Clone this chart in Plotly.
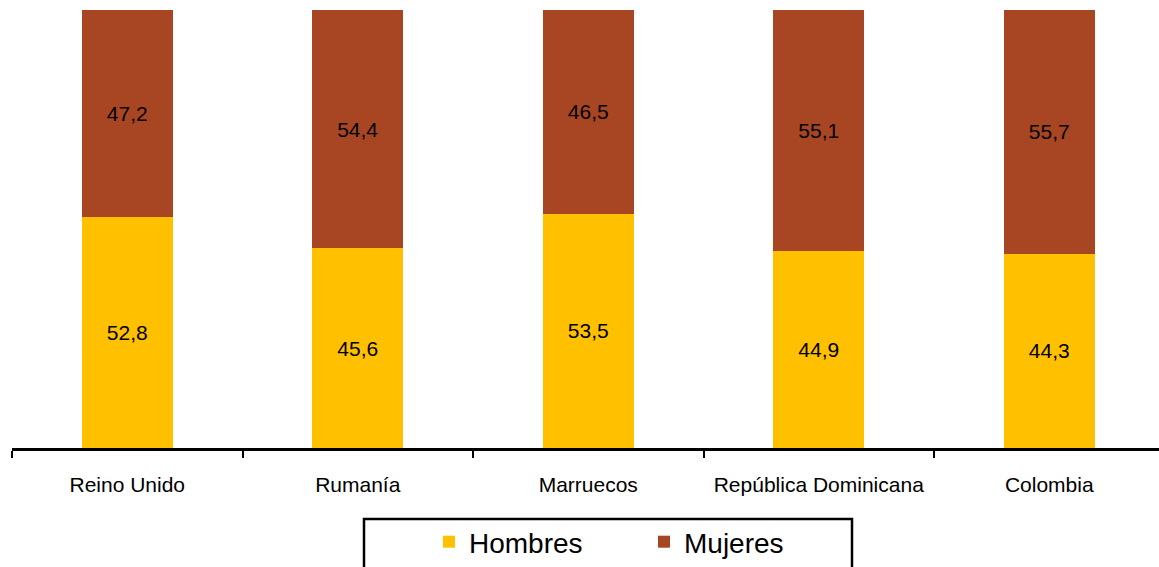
import plotly.graph_objects as go

categorias = ["Reino Unido", "Rumanía", "Marruecos", "República Dominicana", "Colombia"]
hombres = [52.8, 45.6, 53.5, 44.9, 44.3]
mujeres = [47.2, 54.4, 46.5, 55.1, 55.7]

W, H = 1159, 567
L, R, T, B = 12, 0, 10, 119
pw = W - L - R
ph = H - T - B

def px_x(x):
    return (x - L) / pw

def px_y(y):
    return (H - B - y) / ph

font = "Liberation Sans, Arial, sans-serif"

fig = go.Figure()
fig.add_trace(go.Bar(
    x=categorias, y=hombres, name="Hombres",
    marker=dict(color="#FFC000", line=dict(width=0)),
    width=0.395,
    texttemplate="%{y:.1f}", textposition="inside", insidetextanchor="middle",
    textangle=0, textfont=dict(color="black", size=21, family=font),
))
fig.add_trace(go.Bar(
    x=categorias, y=mujeres, name="Mujeres",
    marker=dict(color="#A84623", line=dict(width=0)),
    width=0.395,
    texttemplate="%{y:.1f}", textposition="inside", insidetextanchor="middle",
    textangle=0, textfont=dict(color="black", size=21, family=font),
))

fig.add_shape(type="rect", xref="paper", yref="paper",
              x0=px_x(364), x1=px_x(852), y0=px_y(519), y1=px_y(620),
              line=dict(color="black", width=2.5), fillcolor="rgba(0,0,0,0)")

fig.update_layout(
    width=W, height=H,
    barmode="stack",
    separators=", ",
    plot_bgcolor="white", paper_bgcolor="white",
    margin=dict(l=L, r=R, t=T, b=B, pad=0),
    font=dict(family=font, color="black"),
    showlegend=True,
    legend=dict(
        orientation="h", x=px_x(429), y=px_y(542), xanchor="left", yanchor="middle",
        font=dict(size=28, family=font, color="black"),
        bgcolor="rgba(0,0,0,0)", borderwidth=0,
        entrywidth=170, entrywidthmode="pixels",
        traceorder="normal", itemwidth=30,
    ),
    xaxis=dict(
        type="category", range=[-0.5, 4.476],
        showline=True, linecolor="black", linewidth=2.5,
        ticks="outside", tickson="boundaries", ticklen=7, tickwidth=2, tickcolor="black",
        tickfont=dict(size=21, family=font, color="black"),
        ticklabelstandoff=16,
        showgrid=False, zeroline=False, fixedrange=True,
    ),
    yaxis=dict(
        range=[0, 100], visible=False, showgrid=False, zeroline=False, fixedrange=True,
    ),
)

fig.write_html("out.html", config={"displayModeBar": False},
               post_script="document.body.style.margin='0px';document.body.style.overflow='hidden';")
